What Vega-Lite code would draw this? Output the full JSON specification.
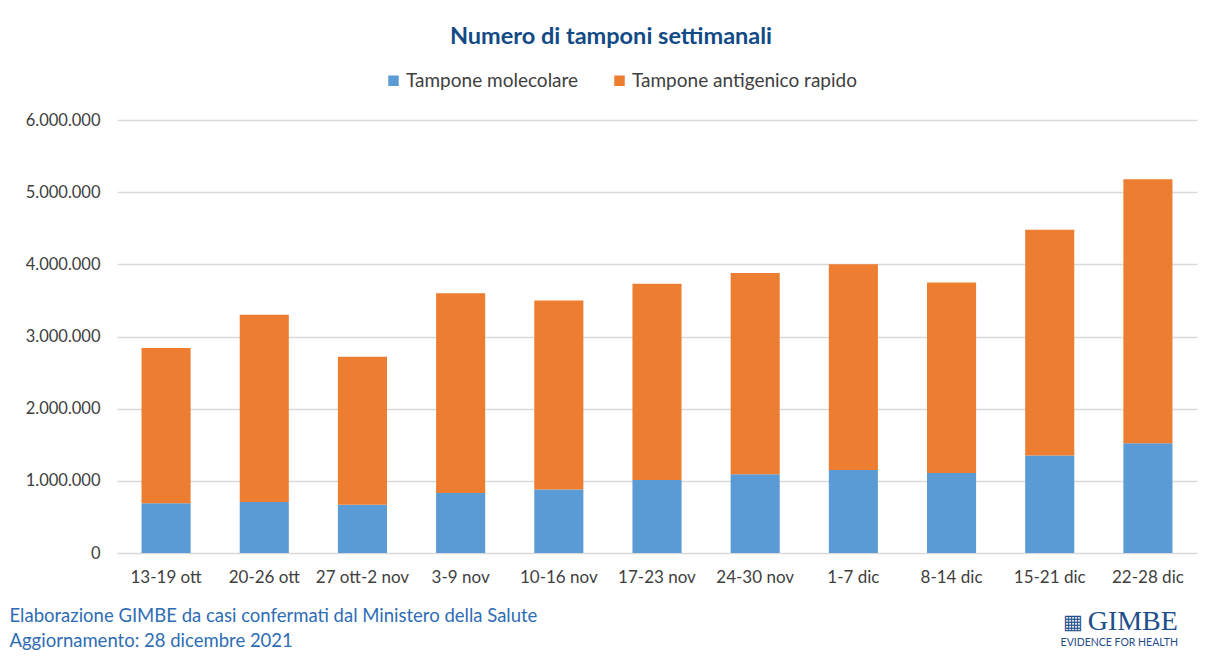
{
  "$schema": "https://vega.github.io/schema/vega-lite/v6.json",
  "width": 1080,
  "height": 433,
  "autosize": {"type": "none"},
  "padding": {"left": 117, "top": 120, "right": 17, "bottom": 104},
  "background": "white",
  "config": {
    "locale": {"number": {"decimal": ",", "thousands": ".", "grouping": [3], "currency": ["€", ""]}},
    "view": {"stroke": null},
    "font": "Lato"
  },
  "title": {
    "text": "Numero di tamponi settimanali",
    "font": "Lato",
    "fontSize": 23.5,
    "fontWeight": "bold",
    "color": "#124A86",
    "anchor": "middle",
    "dx": -46,
    "offset": 23
  },
  "datasets": {
    "tamponi": [
      {"settimana": "13-19 ott", "tipo": "Tampone molecolare", "valore": 690000},
      {"settimana": "13-19 ott", "tipo": "Tampone antigenico rapido", "valore": 2150000},
      {"settimana": "20-26 ott", "tipo": "Tampone molecolare", "valore": 705000},
      {"settimana": "20-26 ott", "tipo": "Tampone antigenico rapido", "valore": 2595000},
      {"settimana": "27 ott-2 nov", "tipo": "Tampone molecolare", "valore": 670000},
      {"settimana": "27 ott-2 nov", "tipo": "Tampone antigenico rapido", "valore": 2050000},
      {"settimana": "3-9 nov", "tipo": "Tampone molecolare", "valore": 830000},
      {"settimana": "3-9 nov", "tipo": "Tampone antigenico rapido", "valore": 2770000},
      {"settimana": "10-16 nov", "tipo": "Tampone molecolare", "valore": 880000},
      {"settimana": "10-16 nov", "tipo": "Tampone antigenico rapido", "valore": 2620000},
      {"settimana": "17-23 nov", "tipo": "Tampone molecolare", "valore": 1010000},
      {"settimana": "17-23 nov", "tipo": "Tampone antigenico rapido", "valore": 2720000},
      {"settimana": "24-30 nov", "tipo": "Tampone molecolare", "valore": 1090000},
      {"settimana": "24-30 nov", "tipo": "Tampone antigenico rapido", "valore": 2790000},
      {"settimana": "1-7 dic", "tipo": "Tampone molecolare", "valore": 1150000},
      {"settimana": "1-7 dic", "tipo": "Tampone antigenico rapido", "valore": 2850000},
      {"settimana": "8-14 dic", "tipo": "Tampone molecolare", "valore": 1110000},
      {"settimana": "8-14 dic", "tipo": "Tampone antigenico rapido", "valore": 2640000},
      {"settimana": "15-21 dic", "tipo": "Tampone molecolare", "valore": 1350000},
      {"settimana": "15-21 dic", "tipo": "Tampone antigenico rapido", "valore": 3130000},
      {"settimana": "22-28 dic", "tipo": "Tampone molecolare", "valore": 1520000},
      {"settimana": "22-28 dic", "tipo": "Tampone antigenico rapido", "valore": 3660000}
    ],
    "logo": [
      {"testo": "GIMBE", "sotto": "EVIDENCE FOR HEALTH", "icona": "▦"}
    ]
  },
  "layer": [
    {
      "data": {"name": "tamponi"},
      "mark": {"type": "bar"},
      "encoding": {
        "x": {
          "field": "settimana",
          "type": "nominal",
          "sort": null,
          "scale": {"domain": ["13-19 ott", "20-26 ott", "27 ott-2 nov", "3-9 nov", "10-16 nov", "17-23 nov", "24-30 nov", "1-7 dic", "8-14 dic", "15-21 dic", "22-28 dic"], "paddingInner": 0.5, "paddingOuter": 0.25},
          "axis": {
            "labelAngle": 0,
            "labelFont": "Lato",
            "labelFontSize": 17,
            "labelColor": "#404040",
            "labelPadding": 16,
            "ticks": false,
            "domain": false,
            "title": ["Elaborazione GIMBE da casi confermati dal Ministero della Salute", "Aggiornamento: 28 dicembre 2021"],
            "titleFont": "Lato",
            "titleFontSize": 18.5,
            "titleFontWeight": "normal",
            "titleColor": "#2E6DB4",
            "titleAnchor": "start",
            "titleAlign": "left",
            "titleBaseline": "alphabetic",
            "titleX": -108,
            "titleY": 68,
            "titleLineHeight": 25,
            "titleLimit": 800
          }
        },
        "y": {
          "field": "valore",
          "type": "quantitative",
          "aggregate": "sum",
          "stack": "zero",
          "scale": {"domain": [0, 6000000], "nice": false},
          "axis": {
            "values": [0, 1000000, 2000000, 3000000, 4000000, 5000000, 6000000],
            "format": ",d",
            "labelFont": "Lato",
            "labelFontSize": 16.5,
            "labelColor": "#404040",
            "labelPadding": 17,
            "ticks": false,
            "domain": false,
            "grid": true,
            "gridColor": "#D9D9D9",
            "gridWidth": 1.4,
            "title": null
          }
        },
        "color": {
          "field": "tipo",
          "type": "nominal",
          "scale": {"domain": ["Tampone molecolare", "Tampone antigenico rapido"], "range": ["#5B9BD5", "#ED7D31"]},
          "legend": {
            "title": null,
            "orient": "none",
            "direction": "horizontal",
            "legendX": 267,
            "legendY": -49,
            "symbolType": "square",
            "symbolSize": 110,
            "symbolStrokeWidth": 0,
            "labelFont": "Lato",
            "labelFontSize": 19,
            "labelColor": "#404040",
            "labelOffset": 3,
            "labelLimit": 400,
            "columnPadding": 31
          }
        },
        "order": {"field": "tipo", "sort": "descending"}
      }
    },
    {
      "data": {"name": "logo"},
      "mark": {"type": "text", "font": "Liberation Serif", "fontSize": 28, "color": "#1F4E8C", "align": "right", "baseline": "alphabetic", "dx": 30},
      "encoding": {
        "x": {"datum": "22-28 dic"},
        "y": {"datum": -1065000},
        "text": {"field": "testo"}
      }
    },
    {
      "data": {"name": "logo"},
      "mark": {"type": "text", "font": "DejaVu Sans", "fontSize": 21, "color": "#1F4E8C", "align": "left", "baseline": "alphabetic", "dx": -85},
      "encoding": {
        "x": {"datum": "22-28 dic"},
        "y": {"datum": -1060000},
        "text": {"field": "icona"}
      }
    },
    {
      "data": {"name": "logo"},
      "mark": {"type": "text", "font": "Lato", "fontSize": 10.5, "color": "#1F4E8C", "align": "right", "baseline": "alphabetic", "dx": 30},
      "encoding": {
        "x": {"datum": "22-28 dic"},
        "y": {"datum": -1290000},
        "text": {"field": "sotto"}
      }
    }
  ]
}
